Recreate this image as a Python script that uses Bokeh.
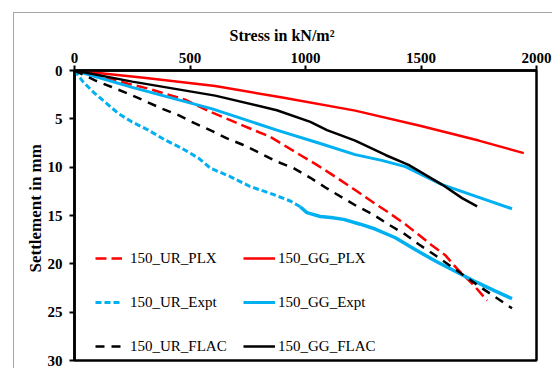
from bokeh.plotting import figure
from bokeh.models import Range1d, Legend, LegendItem, FixedTicker, Title
from bokeh.embed import file_html
from bokeh.resources import INLINE

# ---- data ----
x_ticks = [0, 500, 1000, 1500, 2000]
y_ticks = [0, 5, 10, 15, 20, 25, 30]

ur_plx_stress = [0, 120, 233, 320, 392, 479, 588, 674, 760, 847, 977, 1049, 1136, 1223, 1302, 1360, 1432, 1490, 1548, 1605, 1656, 1728, 1786]
ur_plx_settle = [0, 0.65, 1.37, 1.88, 2.40, 3.01, 4.28, 5.14, 6.0, 6.86, 8.74, 9.76, 11.1, 12.5, 13.8, 14.7, 15.9, 17.0, 18.1, 19.1, 20.5, 22.2, 23.8]

gg_plx_stress = [0, 300, 609, 900, 1215, 1500, 1750, 1945]
gg_plx_settle = [0, 0.75, 1.6, 2.8, 4.15, 5.75, 7.25, 8.55]

ur_expt_stress = [0, 38, 89, 132, 190, 248, 320, 392, 465, 537, 588, 674, 760, 847, 934, 977, 1006, 1064, 1110, 1165, 1237, 1302, 1389, 1480, 1562, 1650, 1740, 1820, 1894]
ur_expt_settle = [0, 1.2, 2.4, 3.26, 4.45, 5.31, 6.17, 7.19, 8.05, 9.07, 10.1, 10.97, 12.0, 12.7, 13.5, 14.1, 14.7, 15.1, 15.2, 15.4, 15.9, 16.4, 17.3, 18.6, 19.7, 20.8, 21.9, 22.8, 23.6]

gg_expt_stress = [0, 250, 600, 876, 1050, 1215, 1330, 1432, 1591, 1735, 1894]
gg_expt_settle = [0, 1.75, 4.0, 6.17, 7.45, 8.7, 9.3, 9.94, 11.8, 13.0, 14.3]

ur_flac_stress = [0, 89, 161, 233, 305, 378, 450, 522, 594, 660, 731, 804, 876, 948, 1021, 1093, 1223, 1288, 1360, 1432, 1490, 1555, 1656, 1757, 1894]
ur_flac_settle = [0, 1.03, 1.71, 2.40, 3.15, 3.94, 4.62, 5.48, 6.24, 7.02, 7.71, 8.56, 9.42, 10.1, 11.1, 12.2, 14.05, 14.83, 15.93, 16.96, 17.98, 19.01, 20.7, 22.4, 24.6]

gg_flac_stress = [0, 250, 609, 876, 1021, 1093, 1215, 1346, 1446, 1591, 1678, 1743]
gg_flac_settle = [0, 1.15, 2.6, 4.11, 5.31, 6.17, 7.25, 8.74, 9.76, 11.8, 13.2, 14.05]

RED = "#FF0000"
BLUE = "#00B0F0"
BLACK = "#000000"
FONT = "Liberation Serif"

p = figure(width=539, height=356, output_backend="svg", toolbar_location=None,
           x_range=Range1d(0, 2000), y_range=Range1d(30, 0),
           x_axis_location="above",
           min_border_left=60, min_border_top=57, min_border_right=17, min_border_bottom=9)
p.margin = (12, 0, 0, 13)
p.styles = {"border-top": "1px solid #A6A6A6", "border-left": "1px solid #A6A6A6"}

p.background_fill_color = "white"
p.border_fill_color = "white"
p.grid.visible = False
p.outline_line_color = "black"
p.outline_line_width = 2.5
p.outline_line_alpha = 1.0

for ax, ticks in ((p.xaxis[0], x_ticks), (p.yaxis[0], y_ticks)):
    ax.ticker = FixedTicker(ticks=ticks)
    ax.axis_line_width = 2.5
    ax.axis_line_color = "black"
    ax.major_tick_line_width = 2
    ax.major_tick_line_color = "black"
    ax.major_tick_out = 5
    ax.major_tick_in = 0
    ax.minor_tick_line_color = None
    ax.major_label_text_font = FONT
    ax.major_label_text_font_style = "bold"
    ax.major_label_text_font_size = "15px"
    ax.major_label_text_color = "black"

p.xaxis.major_label_standoff = 3
p.yaxis.major_label_standoff = 7

x_title = Title(text="Stress in kN/m\u00b2", align="left", offset=155, standoff=12,
                text_font=FONT, text_font_style="bold", text_font_size="16px", text_color="black")
y_title = Title(text="Settlement in mm", align="left", offset=88, standoff=0,
                text_font=FONT, text_font_style="bold", text_font_size="17px", text_color="black")
p.add_layout(x_title, "above")
p.add_layout(y_title, "left")

r_ur_plx = p.line(ur_plx_stress, ur_plx_settle, line_color=RED, line_width=2.5, line_dash="11 5")
r_gg_plx = p.line(gg_plx_stress, gg_plx_settle, line_color=RED, line_width=2.5)

split = next(i for i, s in enumerate(ur_expt_stress) if s >= 977)
r_ur_expt = p.line(ur_expt_stress[:split + 1], ur_expt_settle[:split + 1], line_color=BLUE, line_width=3, line_dash="6 3")
p.line(ur_expt_stress[split:], ur_expt_settle[split:], line_color=BLUE, line_width=3.5)
r_gg_expt = p.line(gg_expt_stress, gg_expt_settle, line_color=BLUE, line_width=3)

r_ur_flac = p.line(ur_flac_stress, ur_flac_settle, line_color=BLACK, line_width=2.5, line_dash="9 7")
r_gg_flac = p.line(gg_flac_stress, gg_flac_settle, line_color=BLACK, line_width=2.5)


def make_legend(items, loc, glyph_w, standoff):
    lg = Legend(items=items, location=loc, orientation="vertical")
    lg.border_line_alpha = 0
    lg.background_fill_alpha = 0
    lg.padding = 0
    lg.margin = 0
    lg.spacing = 24
    lg.glyph_width = glyph_w
    lg.glyph_height = 20
    lg.label_height = 20
    lg.label_standoff = standoff
    lg.label_text_font = FONT
    lg.label_text_font_size = "15px"
    lg.label_text_color = "black"
    return lg


leg1 = make_legend([LegendItem(label="150_UR_PLX", renderers=[r_ur_plx]),
                    LegendItem(label="150_UR_Expt", renderers=[r_ur_expt]),
                    LegendItem(label="150_UR_FLAC", renderers=[r_ur_flac])], (21, 4), 27, 8)
leg2 = make_legend([LegendItem(label="150_GG_PLX", renderers=[r_gg_plx]),
                    LegendItem(label="150_GG_Expt", renderers=[r_gg_expt]),
                    LegendItem(label="150_GG_FLAC", renderers=[r_gg_flac])], (169, 4), 32, 3)
p.add_layout(leg1)
p.add_layout(leg2)

open("out.html", "w").write(file_html(p, INLINE))
